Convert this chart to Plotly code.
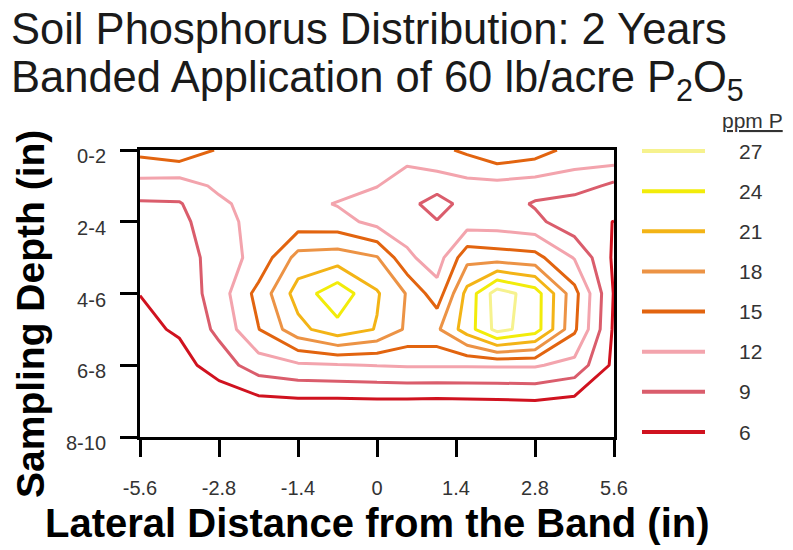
import plotly.graph_objects as go

# ---------------- data ----------------
x_tick_labels = ['-5.6', '-2.8', '-1.4', '0', '1.4', '2.8', '5.6']
y_tick_labels = ['0-2', '2-4', '4-6', '6-8', '8-10']

# grid positions along the (evenly spaced) lateral tick axis: 0 -> -5.6 in, 6 -> 5.6 in
grid_x = [0, 0.5, 1, 1.5, 2, 2.5, 3, 3.38, 3.76, 4.14, 4.52, 5, 5.5, 6]
# grid positions along the depth tick axis: 1 -> 0-2 in, 9 -> 8-10 in
grid_depth = [1, 2, 2.5, 3, 4, 5, 6, 7, 8, 9]

# soil P (ppm), one list per depth row
p_row_1 = [16.0, 17.1, 14.7, 14.2, 13.5, 13.4, 13.3, 13.5, 14.2, 15.6, 17.5, 16.5, 13.8, 14.7]
p_row_2 = [10.9, 10.5, 12.6, 13.6, 13.2, 13.4, 12.1, 10.2, 10.5, 11.0, 11.0, 10.5, 10.5, 8.3]
p_row_25 = [8.6, 8.8, 11.4, 13.3, 13.1, 11.8, 10.5, 10.2, 7.3, 10.5, 10.5, 8.7, 7.5, 7.2]
p_row_3 = [7.8, 8.2, 11.0, 13.0, 13.4, 13.2, 11.0, 10.5, 9.2, 10.5, 10.5, 9.8, 7.0, 5.95]
p_row_4 = [6.9, 7.0, 10.8, 12.8, 19.1, 19.5, 18.2, 12.6, 10.5, 17.0, 16.5, 16.0, 11.8, 5.5]
p_row_5 = [6.05, 7.0, 10.5, 16.0, 22.3, 26.0, 21.3, 17.8, 13.2, 22.0, 28.5, 25.5, 16.0, 5.8]
p_row_6 = [5.2, 6.4, 9.7, 14.9, 20.0, 23.0, 20.8, 17.5, 17.5, 22.5, 28.0, 25.5, 15.5, 5.5]
p_row_7 = [4.5, 4.8, 7.5, 10.5, 11.5, 11.8, 12.1, 12.3, 12.3, 12.3, 12.3, 12.3, 11.0, 5.3]
p_row_8 = [4.0, 4.2, 4.0, 5.2, 5.5, 5.5, 5.6, 5.6, 5.5, 5.6, 5.7, 5.9, 5.2, 4.5]
p_row_9 = [3.5, 3.6, 3.5, 4.5, 4.5, 4.5, 4.5, 4.5, 4.5, 4.5, 4.5, 4.5, 4.2, 4.0]

z = [p_row_1, p_row_2, p_row_25, p_row_3, p_row_4, p_row_5, p_row_6, p_row_7, p_row_8, p_row_9]

levels = [27, 24, 21, 18, 15, 12, 9, 6]
level_colors = ['#f6f28e', '#f2ec0a', '#f3b416', '#ec9345', '#e2640f', '#f3a4ad', '#da5d6c', '#d0121f']

# ---------------- layout helpers ----------------
W, H = 793, 550
PL, PR, PT, PB = 140, 614, 150, 437


def px_x(px):
    return (px - PL) / (PR - PL)


def px_y(py):
    return (PB - py) / (PB - PT)


FONT = 'Liberation Sans, Arial, Helvetica, sans-serif'

fig = go.Figure()
for lvl, col in zip(levels, level_colors):
    fig.add_trace(go.Contour(
        x=grid_x, y=grid_depth, z=z,
        contours=dict(start=lvl, end=lvl, size=1, coloring='none'),
        line=dict(color=col, width=3, smoothing=0),
        showscale=False, hoverinfo='skip', name=str(lvl)))

axis_common = dict(showline=True, linecolor='black', linewidth=3, mirror=True,
                   ticks='outside', ticklen=17, tickwidth=3, tickcolor='black',
                   showgrid=False, zeroline=False,
                   tickfont=dict(family=FONT, size=20, color='#333333'))

fig.update_layout(
    width=W, height=H,
    margin=dict(l=PL, r=W - PR, t=PT, b=H - PB),
    paper_bgcolor='white', plot_bgcolor='white',
    showlegend=False,
    xaxis=dict(range=[0, 6], tickvals=list(range(7)), ticktext=x_tick_labels,
               ticklabelstandoff=14, **axis_common),
    yaxis=dict(range=[9, 1], tickvals=[1, 3, 5, 7, 9], ticktext=y_tick_labels,
               ticklabelstandoff=10, ticklabelshift=-6, **axis_common),
)

ann = []
# chart title (two lines)
ann.append(dict(text='Soil Phosphorus Distribution: 2 Years', x=px_x(9), y=px_y(29),
                xref='paper', yref='paper', xanchor='left', yanchor='middle', showarrow=False,
                font=dict(family=FONT, size=43.5, color='#1a1a1a')))
ann.append(dict(text='Banded Application of 60 lb/acre P<sub>2</sub>O<sub>5</sub>', x=px_x(9), y=px_y(80),
                xref='paper', yref='paper', xanchor='left', yanchor='middle', showarrow=False,
                font=dict(family=FONT, size=43.5, color='#1a1a1a')))
# axis titles
ann.append(dict(text='<b>Lateral Distance from the Band (in)</b>', x=px_x(377), y=px_y(523),
                xref='paper', yref='paper', xanchor='center', yanchor='middle', showarrow=False,
                font=dict(family=FONT, size=40, color='black')))
ann.append(dict(text='<b>Sampling Depth (in)</b>', x=px_x(30), y=px_y(314), textangle=-90,
                xref='paper', yref='paper', xanchor='center', yanchor='middle', showarrow=False,
                font=dict(family=FONT, size=39, color='black')))
# legend
ann.append(dict(text='<u>ppm P</u>', x=px_x(752), y=px_y(121),
                xref='paper', yref='paper', xanchor='center', yanchor='middle', showarrow=False,
                font=dict(family=FONT, size=21, color='#333333')))
shapes = []
n = len(levels)
for i, (lvl, col) in enumerate(zip(levels, level_colors)):
    yy = 151 + i * (432 - 151) / (n - 1)
    shapes.append(dict(type='line', xref='paper', yref='paper',
                       x0=px_x(642), x1=px_x(705), y0=px_y(yy), y1=px_y(yy),
                       line=dict(color=col, width=4)))
    ann.append(dict(text=str(lvl), x=px_x(737), y=px_y(yy),
                    xref='paper', yref='paper', xanchor='left', yanchor='middle', showarrow=False,
                    font=dict(family=FONT, size=21, color='#333333')))

fig.update_layout(annotations=ann, shapes=shapes)
fig.write_html('out.html')
